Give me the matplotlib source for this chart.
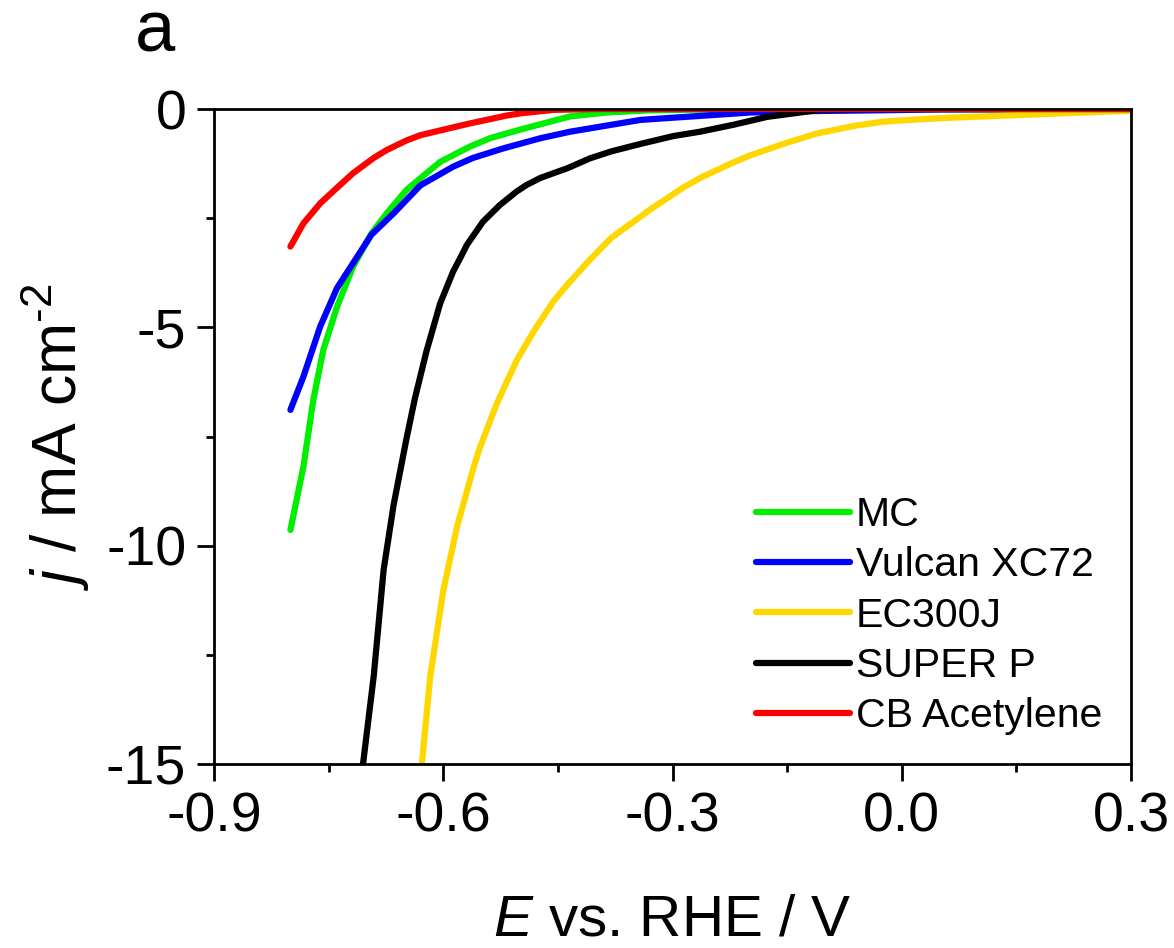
import matplotlib
matplotlib.use("Agg")
import matplotlib.pyplot as plt
from matplotlib.ticker import MultipleLocator

plt.rcParams['font.family'] = ['Liberation Sans', 'DejaVu Sans']
plt.rcParams['mathtext.fontset'] = 'custom'
plt.rcParams['mathtext.rm'] = 'Liberation Sans'
plt.rcParams['mathtext.it'] = 'Liberation Sans:italic'

# ---- data ----
labels = ["MC", "Vulcan XC72", "EC300J", "SUPER P", "CB Acetylene"]
colors = ["#00ee00", "#0000ff", "#ffd700", "#000000", "#ff0000"]

E_mc = [-0.800, -0.783, -0.770, -0.757, -0.739, -0.718, -0.694, -0.674, -0.648, -0.604,
        -0.565, -0.539, -0.499, -0.473, -0.434, -0.386, -0.33, -0.25, 0.30]
j_mc = [-9.64, -8.19, -6.66, -5.52, -4.53, -3.61, -2.85, -2.39, -1.85, -1.21,
        -0.86, -0.67, -0.47, -0.35, -0.17, -0.08, -0.03, -0.01, 0.0]

E_vul = [-0.800, -0.783, -0.761, -0.739, -0.718, -0.694, -0.665, -0.630, -0.587, -0.561,
         -0.521, -0.473, -0.434, -0.342, -0.198, -0.13, -0.03, 0.05, 0.30]
j_vul = [-6.89, -6.13, -4.98, -4.10, -3.53, -2.88, -2.39, -1.75, -1.32, -1.12,
         -0.90, -0.67, -0.52, -0.25, -0.08, -0.05, -0.03, -0.01, 0.0]

E_ec = [-0.628, -0.617, -0.600, -0.582, -0.561, -0.552, -0.530, -0.504, -0.482, -0.456,
        -0.438, -0.408, -0.380, -0.351, -0.329, -0.286, -0.264, -0.220, -0.198, -0.155,
        -0.111, -0.060, -0.024, 0.020, 0.063, 0.151, 0.238, 0.300]
j_ec = [-15.0, -12.99, -11.03, -9.57, -8.25, -7.75, -6.75, -5.76, -5.10, -4.41,
        -4.03, -3.45, -2.95, -2.58, -2.30, -1.80, -1.58, -1.22, -1.06, -0.80,
        -0.56, -0.38, -0.29, -0.24, -0.20, -0.14, -0.08, -0.04]

E_sp = [-0.705, -0.691, -0.678, -0.665, -0.648, -0.637, -0.622, -0.604, -0.587, -0.578,
        -0.569, -0.548, -0.526, -0.504, -0.491, -0.473, -0.451, -0.438, -0.408, -0.380,
        -0.342, -0.299, -0.264, -0.220, -0.176, -0.133, -0.107, -0.08, -0.04, 0.0, 0.30]
j_sp = [-15.0, -12.99, -10.55, -9.07, -7.54, -6.62, -5.55, -4.45, -3.72, -3.42,
        -3.11, -2.58, -2.20, -1.89, -1.74, -1.58, -1.44, -1.36, -1.13, -0.97,
        -0.80, -0.62, -0.52, -0.36, -0.18, -0.08, -0.02, -0.01, 0.0, 0.0, 0.0]

E_cb = [-0.800, -0.783, -0.761, -0.735, -0.718, -0.691, -0.674, -0.648, -0.630, -0.582,
        -0.565, -0.517, -0.499, -0.456, -0.40, 0.30]
j_cb = [-3.15, -2.62, -2.16, -1.74, -1.47, -1.12, -0.94, -0.72, -0.60, -0.40,
        -0.33, -0.15, -0.10, -0.02, 0.0, 0.0]

series = [(E_mc, j_mc), (E_vul, j_vul), (E_ec, j_ec), (E_sp, j_sp), (E_cb, j_cb)]

xticks = [-0.9, -0.6, -0.3, 0.0, 0.3]
xticklabels = ["-0.9", "-0.6", "-0.3", "0.0", "0.3"]
yticks = [0, -5, -10, -15]
yticklabels = ["0", "-5", "-10", "-15"]

# ---- figure ----
fig = plt.figure(figsize=(11.74, 9.48), dpi=100)
ax = fig.add_axes([214/1174, 1-764/948, (1131-214)/1174, (764-109)/948])

for (E, j), lab, col in zip(series, labels, colors):
    ax.plot(E, j, color=col, lw=4.5, label=lab, solid_capstyle='round',
            solid_joinstyle='round')

ax.set_xlim(-0.9, 0.3)
ax.set_ylim(-15, 0)
ax.set_xticks(xticks)
ax.set_xticklabels(xticklabels)
ax.set_yticks(yticks)
ax.set_yticklabels(yticklabels)
ax.xaxis.set_minor_locator(MultipleLocator(0.15))
ax.yaxis.set_minor_locator(MultipleLocator(2.5))

ax.tick_params(which='major', direction='out', length=12, width=2, labelsize=40, pad=8,
               top=False, right=False)
ax.tick_params(which='minor', direction='out', length=6, width=2, top=False, right=False)
for s in ax.spines.values():
    s.set_linewidth(2)

ax.set_xlabel(r'$\mathit{E}$ vs. RHE / V', fontsize=42, labelpad=36)
ax.set_ylabel(r'$\mathit{j}$ / mA cm$^{\text{-2}}$', fontsize=45, labelpad=10)

leg = ax.legend(loc='lower right', frameon=False, fontsize=29.5, handlelength=2.3,
                handletextpad=0.15, labelspacing=0.3, borderaxespad=0.3,
                bbox_to_anchor=(1.0, 0.0))
for h in leg.get_lines():
    h.set_linewidth(4.5)

fig.text(135/1174, 1-52/948, 'a', fontsize=52, ha='left', va='baseline')

fig.savefig('out.png', dpi=100)
